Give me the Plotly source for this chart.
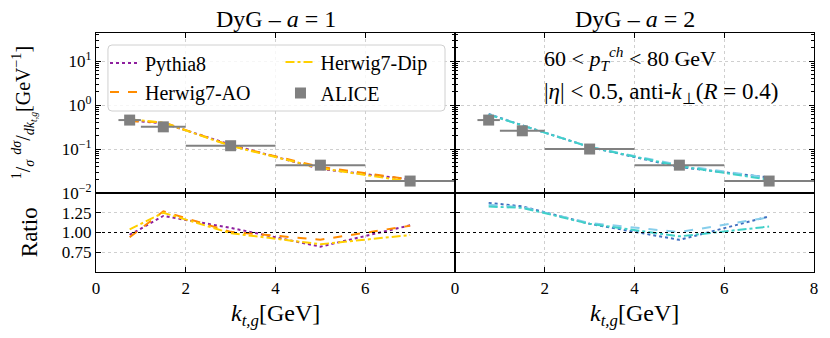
import plotly.graph_objects as go

# ---------------- data ----------------
kt_centers = [0.75, 1.5, 3.0, 5.0, 7.0]
kt_halfwidth = [0.25, 0.5, 1.0, 1.0, 1.0]

# a = 1 panel
alice_a1 = [0.456, 0.32, 0.119, 0.043, 0.0187]
pythia_a1 = [0.442, 0.387, 0.126, 0.0353, 0.0204]
hw_ao_a1 = [0.429, 0.406, 0.120, 0.0391, 0.0203]
hw_dip_a1 = [0.474, 0.400, 0.118, 0.0366, 0.0181]

# a = 2 panel
alice_a2 = [0.456, 0.26, 0.100, 0.043, 0.0187]
pythia_a2 = [0.627, 0.346, 0.111, 0.0390, 0.0225]
hw_ao_a2 = [0.616, 0.343, 0.112, 0.0432, 0.0223]
hw_dip_a2 = [0.606, 0.341, 0.111, 0.0409, 0.0201]

titles = ["DyG – <i>a</i> = 1", "DyG – <i>a</i> = 2"]
x_ticks_left = [0, 2, 4, 6]
x_ticks_right = [0, 2, 4, 6, 8]
y_ticks_top = [0.01, 0.1, 1, 10]
y_ticktext_top = ["10<sup>−2</sup>", "10<sup>−1</sup>", "10<sup>0</sup>", "10<sup>1</sup>"]
ratio_ticks = [0.75, 1.00, 1.25]
ratio_ticktext = ["0.75", "1.00", "1.25"]

FONT = "Liberation Serif"
colors_a1 = {"Pythia8": "#8e1f9e", "Herwig7-AO": "#ff8c00", "Herwig7-Dip": "#ffd000"}
colors_a2 = {"Pythia8": "#3f6fbf", "Herwig7-AO": "#87ceeb", "Herwig7-Dip": "#40d0c8"}
dashes = {"Pythia8": "dot", "Herwig7-AO": "dash", "Herwig7-Dip": "dashdot"}
legend_of = {"Pythia8": "legend", "Herwig7-AO": "legend2", "Herwig7-Dip": "legend3"}
GRAY = "#808080"

fig = go.Figure()

panels = [
    (alice_a1, {"Pythia8": pythia_a1, "Herwig7-AO": hw_ao_a1, "Herwig7-Dip": hw_dip_a1}, colors_a1, "x", "y", "x3", "y3", True),
    (alice_a2, {"Pythia8": pythia_a2, "Herwig7-AO": hw_ao_a2, "Herwig7-Dip": hw_dip_a2}, colors_a2, "x2", "y2", "x4", "y4", False),
]

for data, models, cols, xt, yt, xb, yb, show in panels:
    for name in ["Pythia8", "Herwig7-AO", "Herwig7-Dip"]:
        vals = models[name]
        fig.add_trace(go.Scatter(
            x=kt_centers, y=vals, mode="lines", name=name,
            line=dict(color=cols[name], dash=dashes[name], width=2),
            xaxis=xt, yaxis=yt, showlegend=show, legend=legend_of[name]))
        ratio = [m / d for m, d in zip(vals, data)]
        fig.add_trace(go.Scatter(
            x=kt_centers, y=ratio, mode="lines", name=name,
            line=dict(color=cols[name], dash=dashes[name], width=2),
            xaxis=xb, yaxis=yb, showlegend=False))
    fig.add_trace(go.Scatter(
        x=kt_centers, y=data, mode="markers", name="ALICE",
        marker=dict(symbol="square", size=11, color=GRAY),
        error_x=dict(type="data", array=kt_halfwidth, color=GRAY, thickness=2, width=0),
        xaxis=xt, yaxis=yt, showlegend=show, legend="legend4"))

axis_common = dict(
    showline=True, linecolor="black", linewidth=1.2, mirror="allticks",
    ticks="inside", ticklen=5, tickwidth=1, tickcolor="black",
    showgrid=True, gridcolor="#cfcfcf", griddash="dot", gridwidth=1,
    zeroline=False, tickfont=dict(family=FONT, size=17, color="black"),
)

W, H = 830, 338
L, R, T, B = 96, 14, 33, 66
split = (272 - 193) / (272 - 33)

def px_to_paper_x(px):
    return (px - L) / (W - L - R)

def px_to_paper_y(py):
    return (H - B - py) / (H - B - T)

minor_log = [m * 10 ** e for e in range(-2, 2) for m in range(2, 10)]

fig.update_layout(
    width=W, height=H,
    margin=dict(l=L, r=R, t=T, b=B),
    paper_bgcolor="white", plot_bgcolor="white",
    font=dict(family=FONT, color="black"),
    xaxis=dict(domain=[0, 0.5], range=[0, 8], tickvals=x_ticks_right, showticklabels=False, anchor="y", **axis_common),
    xaxis2=dict(domain=[0.5, 1], range=[0, 8], tickvals=x_ticks_right, showticklabels=False, anchor="y2", **axis_common),
    xaxis3=dict(domain=[0, 0.5], range=[0, 8], tickvals=x_ticks_left, anchor="y3", **axis_common),
    xaxis4=dict(domain=[0.5, 1], range=[0, 8], tickvals=x_ticks_right, anchor="y4", **axis_common),
    yaxis=dict(domain=[split, 1], type="log", range=[-2, 1.64], tickvals=y_ticks_top, ticktext=y_ticktext_top,
               anchor="x", minor=dict(tickvals=minor_log, ticks="inside", ticklen=3, tickcolor="black", showgrid=False),
               **axis_common),
    yaxis2=dict(domain=[split, 1], type="log", range=[-2, 1.64], tickvals=y_ticks_top, showticklabels=False,
                anchor="x2", minor=dict(tickvals=minor_log, ticks="inside", ticklen=3, tickcolor="black", showgrid=False),
                **axis_common),
    yaxis3=dict(domain=[0, split], range=[0.5, 1.5], tickvals=ratio_ticks, ticktext=ratio_ticktext, anchor="x3", **axis_common),
    yaxis4=dict(domain=[0, split], range=[0.5, 1.5], tickvals=ratio_ticks, showticklabels=False, anchor="x4", **axis_common),
)

leg_common = dict(bgcolor="rgba(0,0,0,0)", borderwidth=0, font=dict(family=FONT, size=20, color="black"),
                  xanchor="left", yanchor="middle", orientation="v")
fig.update_layout(
    legend=dict(x=px_to_paper_x(105), y=px_to_paper_y(63), **leg_common),
    legend2=dict(x=px_to_paper_x(105), y=px_to_paper_y(92), **leg_common),
    legend3=dict(x=px_to_paper_x(281), y=px_to_paper_y(62), **leg_common),
    legend4=dict(x=px_to_paper_x(281), y=px_to_paper_y(93), **leg_common),
)

# legend frame (rounded)
x0, x1 = px_to_paper_x(108), px_to_paper_x(446)
y0, y1 = px_to_paper_y(111), px_to_paper_y(45)
rx, ry = 4 / (W - L - R), 4 / (H - B - T)
path = (f"M {x0+rx},{y1} L {x1-rx},{y1} Q {x1},{y1} {x1},{y1-ry} L {x1},{y0+ry} Q {x1},{y0} {x1-rx},{y0} "
        f"L {x0+rx},{y0} Q {x0},{y0} {x0},{y0+ry} L {x0},{y1-ry} Q {x0},{y1} {x0+rx},{y1} Z")
fig.add_shape(type="path", path=path, xref="paper", yref="paper",
              line=dict(color="#d0d0d0", width=1), fillcolor="rgba(255,255,255,0.8)", layer="above")

# reference lines at ratio = 1
for xr, yr in [("x3", "y3"), ("x4", "y4")]:
    fig.add_shape(type="line", xref=f"{xr} domain", yref=yr, x0=0, x1=1, y0=1, y1=1,
                  line=dict(color="black", width=1, dash="dot"), layer="above")

ann = []
for i, t in enumerate(titles):
    ann.append(dict(text=t, x=0.25 + 0.5 * i, y=px_to_paper_y(19), xref="paper", yref="paper",
                    showarrow=False, font=dict(family=FONT, size=24), xanchor="center", yanchor="middle"))
for xc in [0.25, 0.75]:
    ann.append(dict(text="<i>k</i><sub><i>t,g</i></sub>[GeV]", x=xc, y=px_to_paper_y(315), xref="paper", yref="paper",
                    showarrow=False, font=dict(family=FONT, size=24), xanchor="center", yanchor="middle"))
ann.append(dict(text="Ratio", x=px_to_paper_x(29), y=px_to_paper_y(232), xref="paper", yref="paper",
                textangle=-90, showarrow=False, font=dict(family=FONT, size=23), xanchor="center", yanchor="middle"))
ann.append(dict(text="<sup>1</sup>/<sub><i>σ</i></sub> <sup><i>dσ</i></sup>/<sub><i>dk<sub>t,g</sub></i></sub>[GeV<sup>−1</sup>]",
                x=px_to_paper_x(24), y=px_to_paper_y(113), xref="paper", yref="paper",
                textangle=-90, showarrow=False, font=dict(family=FONT, size=20), xanchor="center", yanchor="middle"))
ann.append(dict(text="60 &lt; <i>p</i><sub><i>T</i></sub><sup><i>ch</i></sup> &lt; 80 GeV",
                x=px_to_paper_x(543), y=px_to_paper_y(58), xref="paper", yref="paper",
                showarrow=False, font=dict(family=FONT, size=22), xanchor="left", yanchor="middle"))
ann.append(dict(text="|<i>η</i>| &lt; 0.5, anti-<i>k</i><sub>⊥</sub>(<i>R</i> = 0.4)",
                x=px_to_paper_x(543), y=px_to_paper_y(93), xref="paper", yref="paper",
                showarrow=False, font=dict(family=FONT, size=23), xanchor="left", yanchor="middle"))
fig.update_layout(annotations=ann)

fig.write_html("out.html", config={"displayModeBar": False},
               post_script="document.body.style.margin='0';document.body.style.overflow='hidden';")
